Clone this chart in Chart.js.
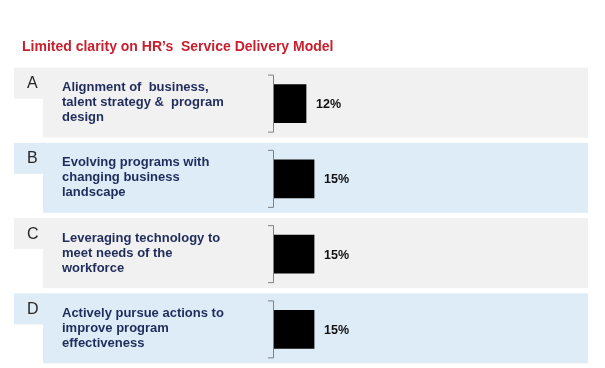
<!DOCTYPE html>
<html>
<head>
<meta charset="utf-8">
<script src="https://cdn.jsdelivr.net/npm/chart.js@4"></script>
<style>
  html, body { margin: 0; padding: 0; background: #fff; }
  #wrap { width: 605px; height: 368px; position: relative; }
</style>
</head>
<body>
<div id="wrap"><canvas id="chart"></canvas></div>
<script>
// Chart data
const chartTitle = "Limited clarity on HR\u2019s  Service Delivery Model";
const letters = ["A", "B", "C", "D"];
const descriptions = [
  ["Alignment of  business,", "talent strategy &  program", "design"],
  ["Evolving programs with", "changing business", "landscape"],
  ["Leveraging technology to", "meet needs of the", "workforce"],
  ["Actively pursue actions to", "improve program", "effectiveness"]
];
const shares = [12, 15, 15, 15];

// Draws the row panels, letters, descriptions and brackets behind the bars
const rowPanels = {
  id: 'rowPanels',
  beforeDatasetsDraw(chart) {
    const ctx = chart.ctx;
    const yScale = chart.scales.y;
    const left = chart.chartArea.left;
    ctx.save();
    letters.forEach((letter, i) => {
      const c = yScale.getPixelForValue(i);
      ctx.fillStyle = i % 2 === 0 ? '#F1F1F1' : '#DEECF8';
      ctx.fillRect(14, c - 36, 30, 31);
      ctx.fillRect(43, c - 36, 545, 70);

      ctx.fillStyle = '#262626';
      ctx.font = '16px "Liberation Sans", Arial, sans-serif';
      ctx.textBaseline = 'middle';
      ctx.textAlign = 'left';
      ctx.fillText(letter, 27, c - 20);

      ctx.fillStyle = '#1F2C5C';
      ctx.font = 'bold 13px "Liberation Sans", Arial, sans-serif';
      descriptions[i].forEach((line, k) => {
        ctx.fillText(line, 62, c - 16 + k * 15);
      });

      // bracket
      ctx.strokeStyle = '#808080';
      ctx.lineWidth = 1;
      ctx.beginPath();
      ctx.moveTo(left - 6, c - 28.5);
      ctx.lineTo(left - 0.5, c - 28.5);
      ctx.lineTo(left - 0.5, c + 28.5);
      ctx.lineTo(left - 6, c + 28.5);
      ctx.stroke();
    });
    ctx.restore();
  },
  afterDatasetsDraw(chart) {
    const ctx = chart.ctx;
    const meta = chart.getDatasetMeta(0);
    ctx.save();
    ctx.fillStyle = '#111';
    ctx.font = 'bold 12.5px "Liberation Sans", Arial, sans-serif';
    ctx.textBaseline = 'middle';
    ctx.textAlign = 'left';
    meta.data.forEach((bar, i) => {
      ctx.fillText(shares[i] + '%', bar.x + 10, bar.y + 1);
    });
    ctx.restore();
  }
};

window.onload = () => {
  const ctx = document.getElementById('chart').getContext('2d');
  new Chart(ctx, {
    type: 'bar',
    data: {
      labels: letters,
      datasets: [{
        data: shares,
        backgroundColor: '#000',
        barThickness: 38
      }]
    },
    options: {
      indexAxis: 'y',
      responsive: true,
      maintainAspectRatio: false,
      animation: false,
      layout: { padding: { left: 22, right: 64, top: 0, bottom: 1 } },
      plugins: {
        legend: { display: false },
        tooltip: { enabled: false },
        title: {
          display: true,
          text: chartTitle,
          align: 'start',
          color: '#C8202E',
          font: { family: '"Liberation Sans", Arial, sans-serif', size: 14, weight: 'bold' },
          padding: { top: 38.6, bottom: 10.6 }
        }
      },
      scales: {
        x: { display: false, min: 0, max: 100 },
        y: {
          display: true,
          grid: { display: false },
          border: { display: false },
          ticks: { display: false },
          afterFit: (scale) => { scale.width = 252; }
        }
      }
    },
    plugins: [rowPanels]
  });
};
</script>
</body>
</html>
